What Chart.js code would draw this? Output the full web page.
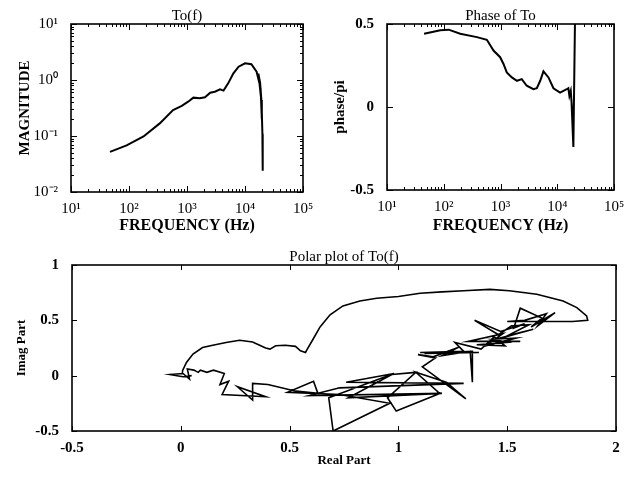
<!DOCTYPE html>
<html>
<head>
<meta charset="utf-8">
<script src="https://cdn.jsdelivr.net/npm/chart.js@4.4.1/dist/chart.umd.min.js"></script>
<style>
  body { margin: 0; background: #fff; }
  #page { position: relative; width: 633px; height: 478px; overflow: hidden; background: #fff; }
  .box { position: absolute; }
</style>
</head>
<body>
<div id="page">
  <div class="box" style="left:0;top:0;width:316px;height:235px"><canvas id="mag"></canvas></div>
  <div class="box" style="left:316px;top:0;width:317px;height:235px"><canvas id="phase"></canvas></div>
  <div class="box" style="left:0;top:238px;width:633px;height:240px"><canvas id="polar"></canvas></div>
</div>
<script>
// tick values and labels
var freqTicks = [10, 100, 1000, 10000, 100000];
var freqTickLabels = ['10¹', '10²', '10³', '10⁴', '10⁵'];
var magTicks = [0.01, 0.1, 1, 10];
var magTickLabels = ['10⁻²', '10⁻¹', '10⁰', '10¹'];
var phaseTicks = [-0.5, 0, 0.5];
var phaseTickLabels = ['-0.5', '0', '0.5'];
var reTicks = [-0.5, 0, 0.5, 1, 1.5, 2];
var reTickLabels = ['-0.5', '0', '0.5', '1', '1.5', '2'];
var imTicks = [-0.5, 0, 0.5, 1];
var imTickLabels = ['-0.5', '0', '0.5', '1'];

// magnitude of To(f)
var magFreq = [47, 91, 178, 339, 575, 813, 1047, 1288, 1660, 2042, 2512, 3020, 3715, 4266, 5129, 6310, 7762,
  10000, 12882, 15849, 17783, 19055, 19500, 18600, 17000, 18200, 19300, 19953, 20200];
var magValue = [0.052, 0.068, 0.098, 0.168, 0.29, 0.344, 0.41, 0.484, 0.471, 0.49, 0.594, 0.617, 0.681, 0.646, 0.871, 1.315, 1.73,
  1.99, 1.91, 1.41, 0.87, 0.44, 0.2, 0.7, 1.3, 0.9, 0.4, 0.11, 0.024];

// phase of To (in units of pi)
var phaseFreq = [45, 87, 122, 195, 384, 575, 753, 986, 1130, 1290, 1585, 1950, 2370, 2900, 3800, 4365, 5010, 5710, 7000,
  8570, 11220, 14690, 15700, 16370, 17300, 18500, 17900, 19230, 20500, 21000];
var phaseValue = [0.441, 0.462, 0.466, 0.441, 0.421, 0.405, 0.34, 0.30, 0.259, 0.208, 0.178, 0.158, 0.168, 0.128, 0.107, 0.113, 0.158, 0.215, 0.178,
  0.113, 0.087, 0.107, 0.113, 0.067, 0.097, -0.045, 0.02, -0.241, 0.5, 0.56];

// polar plot of To(f): smooth upper arc, then the noisy return to the origin
var polarRe = [0.01, 0.008, 0.026, 0.056, 0.10, 0.147, 0.208, 0.27, 0.33, 0.375, 0.39, 0.41, 0.436, 0.48, 0.527, 0.55, 0.573, 0.58, 0.607, 0.64,
  0.686, 0.745, 0.823, 0.90, 1.0, 1.1, 1.2, 1.3, 1.42, 1.51, 1.636, 1.757, 1.82, 1.865, 1.87,
  1.80, 1.62, 1.50, 1.58, 1.68, 1.64, 1.72, 1.61, 1.66, 1.56,
  1.53, 1.58, 1.47, 1.35, 1.46, 1.52, 1.60, 1.50, 1.62, 1.45,
  1.58, 1.42, 1.56, 1.32, 1.48, 1.40, 1.54, 1.43, 1.50, 1.36,
  1.49, 1.44, 1.38, 1.26, 1.30, 1.10, 1.37, 1.12, 1.34, 1.34,
  1.33, 1.20, 1.28, 1.16, 1.09, 1.17, 1.11, 1.31, 1.22, 1.08,
  1.19, 0.99, 0.95, 1.08, 0.97, 0.77, 1.20, 0.59, 0.73, 1.30,
  0.76, 0.98, 0.68, 0.70, 0.96, 0.73, 0.49, 0.61, 0.63, 0.53,
  0.40, 0.33, 0.33, 0.26, 0.39, 0.19, 0.22, 0.18, 0.20, 0.15,
  0.12, 0.09, 0.08, 0.06, 0.03, 0.04, 0.01, -0.05, 0.01, 0.05];
var polarIm = [0.03, 0.045, 0.12, 0.195, 0.254, 0.275, 0.30, 0.32, 0.305, 0.263, 0.25, 0.24, 0.27, 0.275, 0.265, 0.225, 0.21, 0.236, 0.327, 0.44,
  0.55, 0.63, 0.675, 0.70, 0.715, 0.745, 0.757, 0.767, 0.78, 0.767, 0.736, 0.675, 0.615, 0.54, 0.50,
  0.49, 0.49, 0.49, 0.50, 0.56, 0.45, 0.57, 0.44, 0.52, 0.61,
  0.43, 0.47, 0.40, 0.50, 0.37, 0.45, 0.46, 0.36, 0.42, 0.33,
  0.40, 0.31, 0.31, 0.31, 0.38, 0.27, 0.34, 0.33, 0.30, 0.28,
  0.27, 0.35, 0.24, 0.30, 0.22, 0.21, 0.21, 0.20, 0.22, -0.06,
  0.22, 0.18, 0.26, 0.17, 0.19, 0.16, 0.08, -0.21, -0.06, 0.03,
  -0.16, -0.32, -0.20, 0.03, 0.01, -0.20, -0.16, -0.18, -0.11, -0.07,
  -0.06, 0.02, -0.20, -0.50, -0.25, -0.17, -0.15, -0.05, -0.16, -0.14,
  -0.08, -0.07, -0.22, -0.10, -0.19, -0.17, -0.05, -0.08, 0.02, 0.05,
  0.03, 0.05, 0.03, 0.05, 0.06, -0.03, 0.02, 0.01, -0.01, 0.0];
var strayRe = [-0.25];
var strayIm = [1.045];

var serif = "'Liberation Serif', 'Times New Roman', serif";
Chart.defaults.font.family = serif;
Chart.defaults.color = '#000';
Chart.defaults.animation = false;

function pts(xs, ys) {
  return xs.map(function (x, i) { return { x: x, y: ys[i] }; });
}

function logMinors(decades) {
  var out = [];
  for (var i = 0; i < decades.length - 1; i++) {
    for (var k = 2; k <= 9; k++) out.push(decades[i] * k);
  }
  return out;
}

// frame round the plot area with inward ticks on all four sides
var framePlugin = {
  id: 'frame',
  afterDraw: function (chart, args, o) {
    var a = chart.chartArea, ctx = chart.ctx;
    var xs = chart.scales.x, ys = chart.scales.y;
    ctx.save();
    ctx.strokeStyle = '#000';
    ctx.lineWidth = 1;
    ctx.beginPath();
    function tx(v, len) {
      var p = Math.round(xs.getPixelForValue(v)) + 0.5;
      ctx.moveTo(p, a.bottom); ctx.lineTo(p, a.bottom - len);
      ctx.moveTo(p, a.top); ctx.lineTo(p, a.top + len);
    }
    function ty(v, len) {
      var p = Math.round(ys.getPixelForValue(v)) + 0.5;
      ctx.moveTo(a.left, p); ctx.lineTo(a.left + len, p);
      ctx.moveTo(a.right, p); ctx.lineTo(a.right - len, p);
    }
    (o.xMajor || []).forEach(function (v) { tx(v, o.major); });
    (o.xMinor || []).forEach(function (v) { tx(v, o.minor); });
    (o.yMajor || []).forEach(function (v) { ty(v, o.major); });
    (o.yMinor || []).forEach(function (v) { ty(v, o.minor); });
    ctx.stroke();
    ctx.lineWidth = 1.6;
    ctx.strokeRect(a.left, a.top, a.right - a.left, a.bottom - a.top);
    ctx.restore();
  }
};

function fixedTicks(values, labels) {
  return {
    afterBuildTicks: function (s) { s.ticks = values.map(function (v) { return { value: v }; }); },
    callback: function (v) { var i = values.indexOf(v); return i < 0 ? '' : labels[i]; }
  };
}

function axisX(type, min, max, values, labels, title, h, tickFont) {
  var f = fixedTicks(values, labels);
  return {
    type: type, min: min, max: max,
    grid: { display: false }, border: { display: false },
    afterBuildTicks: f.afterBuildTicks,
    afterFit: function (s) { s.height = h; },
    ticks: { callback: f.callback, padding: 0, maxRotation: 0, autoSkip: false, font: tickFont },
    title: title
  };
}

function axisY(type, min, max, values, labels, title, w, pad, tickFont) {
  var f = fixedTicks(values, labels);
  return {
    type: type, min: min, max: max,
    grid: { display: false }, border: { display: false },
    afterBuildTicks: f.afterBuildTicks,
    afterFit: function (s) { s.width = w; },
    ticks: { callback: f.callback, padding: pad, autoSkip: false, font: tickFont },
    title: title
  };
}

function lineSet(data, width) {
  return { data: data, showLine: true, borderColor: '#000', borderWidth: width, pointRadius: 0, tension: 0 };
}

function titleOpt(text, top) {
  return { display: true, text: text, fullSize: false, color: '#000',
    font: { size: 15, weight: 'normal', lineHeight: 1 }, padding: { top: top, bottom: 0 } };
}

var powFont = { size: 15, weight: 'normal' };
var numFont = { size: 15, weight: 'bold' };

new Chart(document.getElementById('mag'), {
  type: 'scatter',
  data: { datasets: [lineSet(pts(magFreq, magValue), 2)] },
  options: {
    responsive: true, maintainAspectRatio: false,
    layout: { padding: { left: 0, top: 0, right: 13, bottom: 0 } },
    plugins: {
      legend: { display: false }, tooltip: { enabled: false },
      title: titleOpt('To(f)', 9),
      frame: { xMajor: freqTicks, xMinor: logMinors(freqTicks), yMajor: magTicks, yMinor: logMinors(magTicks), major: 6, minor: 3 }
    },
    scales: {
      x: axisX('logarithmic', 10, 100000, freqTicks, freqTickLabels,
        { display: true, text: 'FREQUENCY (Hz)', font: { size: 16, weight: 'bold' }, padding: 0 }, 43, powFont),
      y: axisY('logarithmic', 0.01, 10, magTicks, magTickLabels,
        { display: true, text: 'MAGNITUDE', font: { size: 15, weight: 'bold' }, padding: { top: 16, bottom: 0 } }, 71, 5, powFont)
    }
  },
  plugins: [framePlugin]
});

new Chart(document.getElementById('phase'), {
  type: 'scatter',
  data: { datasets: [lineSet(pts(phaseFreq, phaseValue), 2)] },
  options: {
    responsive: true, maintainAspectRatio: false,
    layout: { padding: { left: 0, top: 0, right: 19, bottom: 0 } },
    plugins: {
      legend: { display: false }, tooltip: { enabled: false },
      title: titleOpt('Phase of To', 9),
      frame: { xMajor: freqTicks, xMinor: logMinors(freqTicks), yMajor: phaseTicks, yMinor: [], major: 6, minor: 3 }
    },
    scales: {
      x: axisX('logarithmic', 10, 100000, freqTicks, freqTickLabels,
        { display: true, text: 'FREQUENCY (Hz)', font: { size: 16, weight: 'bold' }, padding: 0 }, 45, powFont),
      y: axisY('linear', -0.5, 0.5, phaseTicks, phaseTickLabels,
        { display: true, text: 'phase/pi', font: { size: 15, weight: 'bold' }, padding: { top: 15, bottom: 0 } }, 71, 5, numFont)
    }
  },
  plugins: [framePlugin]
});

var straySet = { data: pts(strayRe, strayIm), showLine: false, pointRadius: 1.8, pointBackgroundColor: '#000', pointBorderWidth: 0, clip: false };

new Chart(document.getElementById('polar'), {
  type: 'scatter',
  data: { datasets: [lineSet(pts(polarRe, polarIm), 1.6), straySet] },
  options: {
    responsive: true, maintainAspectRatio: false,
    layout: { padding: { left: 0, top: 0, right: 17, bottom: 0 } },
    plugins: {
      legend: { display: false }, tooltip: { enabled: false },
      title: titleOpt('Polar plot of To(f)', 12),
      frame: { xMajor: reTicks, yMajor: imTicks, major: 5, minor: 3 }
    },
    scales: {
      x: axisX('linear', -0.5, 2, reTicks, reTickLabels,
        { display: true, text: 'Real Part', font: { size: 13, weight: 'bold' }, padding: { top: 0, bottom: 10 } }, 47, numFont),
      y: axisY('linear', -0.5, 1, imTicks, imTickLabels,
        { display: true, text: 'Imag Part', font: { size: 13, weight: 'bold' }, padding: { top: 14, bottom: 0 } }, 72, 5, numFont)
    }
  },
  plugins: [framePlugin]
});
</script>
</body>
</html>
